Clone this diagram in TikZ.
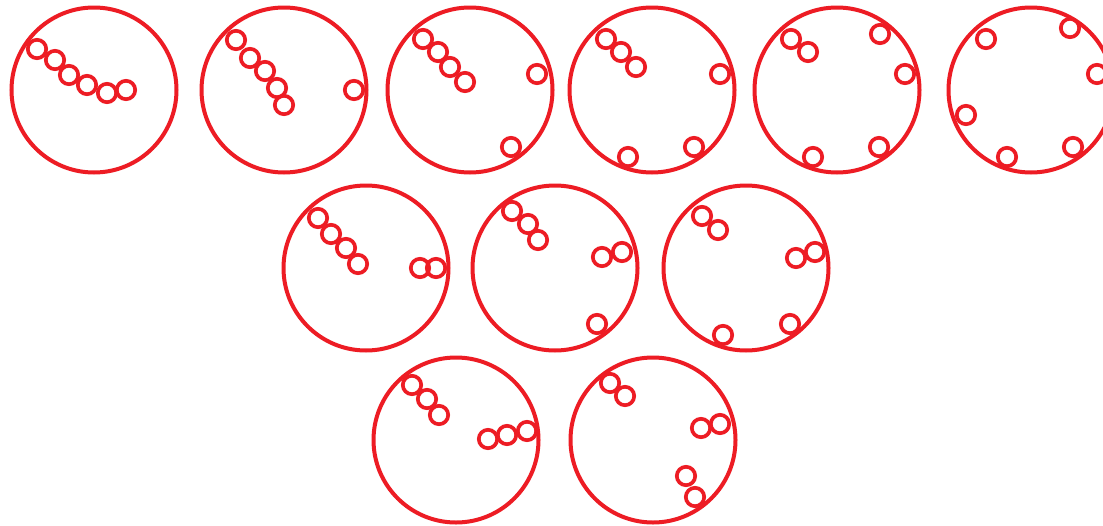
\documentclass[tikz,border=0pt]{standalone}
\definecolor{cred}{HTML}{ED1C24}
\tikzset{
  big/.style={draw=cred,line width=4pt},
  small/.style={draw=cred,line width=3.7pt}
}
\newcommand{\bigc}[2]{\draw[big] (#1,#2) circle (82.5);}
\newcommand{\smc}[2]{\draw[small] (#1,#2) circle (9.2);}
\begin{document}
\begin{tikzpicture}[x=1pt,y=-1pt]
\clip (0,0) rectangle (1103,525);
\fill[white] (0,0) rectangle (1103,525);
% row 1
\bigc{94}{90}
\smc{37}{49}\smc{55}{60}\smc{69}{75}\smc{87}{85}\smc{107}{93}\smc{126}{90}
\bigc{284}{90}
\smc{236}{40}\smc{250}{58}\smc{265}{71}\smc{277}{88}\smc{284}{105}\smc{354}{90}
\bigc{470}{90}
\smc{423}{39}\smc{438}{52}\smc{450}{67}\smc{465}{82}\smc{537}{74}\smc{511}{147}
\bigc{652}{90}
\smc{606}{39}\smc{621}{52}\smc{636}{67}\smc{720}{74}\smc{694}{147}\smc{628}{157}
\bigc{837}{90}
\smc{791}{39}\smc{808}{52}\smc{880}{34}\smc{905}{74}\smc{879}{147}\smc{813}{157}
\bigc{1031}{90}
\smc{986}{39}\smc{1070}{28}\smc{1097}{74}\smc{966}{115}\smc{1007}{157}\smc{1073}{147}
% row 2
\bigc{366}{268}
\smc{318}{218}\smc{331}{234}\smc{346}{248}\smc{358}{264}\smc{420}{268}\smc{436}{268}
\bigc{555}{268}
\smc{512}{211}\smc{528}{224}\smc{538}{240}\smc{602}{257}\smc{622}{252}\smc{597}{324}
\bigc{746}{268}
\smc{702}{216}\smc{718}{230}\smc{796}{258}\smc{815}{252}\smc{790}{324}\smc{723}{335}
% row 3
\bigc{456}{440}
\smc{412}{385}\smc{427}{399}\smc{439}{415}\smc{488}{439}\smc{507}{435}\smc{527}{431}
\bigc{653}{440}
\smc{610}{383}\smc{625}{396}\smc{701}{428}\smc{720}{424}\smc{686}{476}\smc{695}{497}
\end{tikzpicture}
\end{document}
